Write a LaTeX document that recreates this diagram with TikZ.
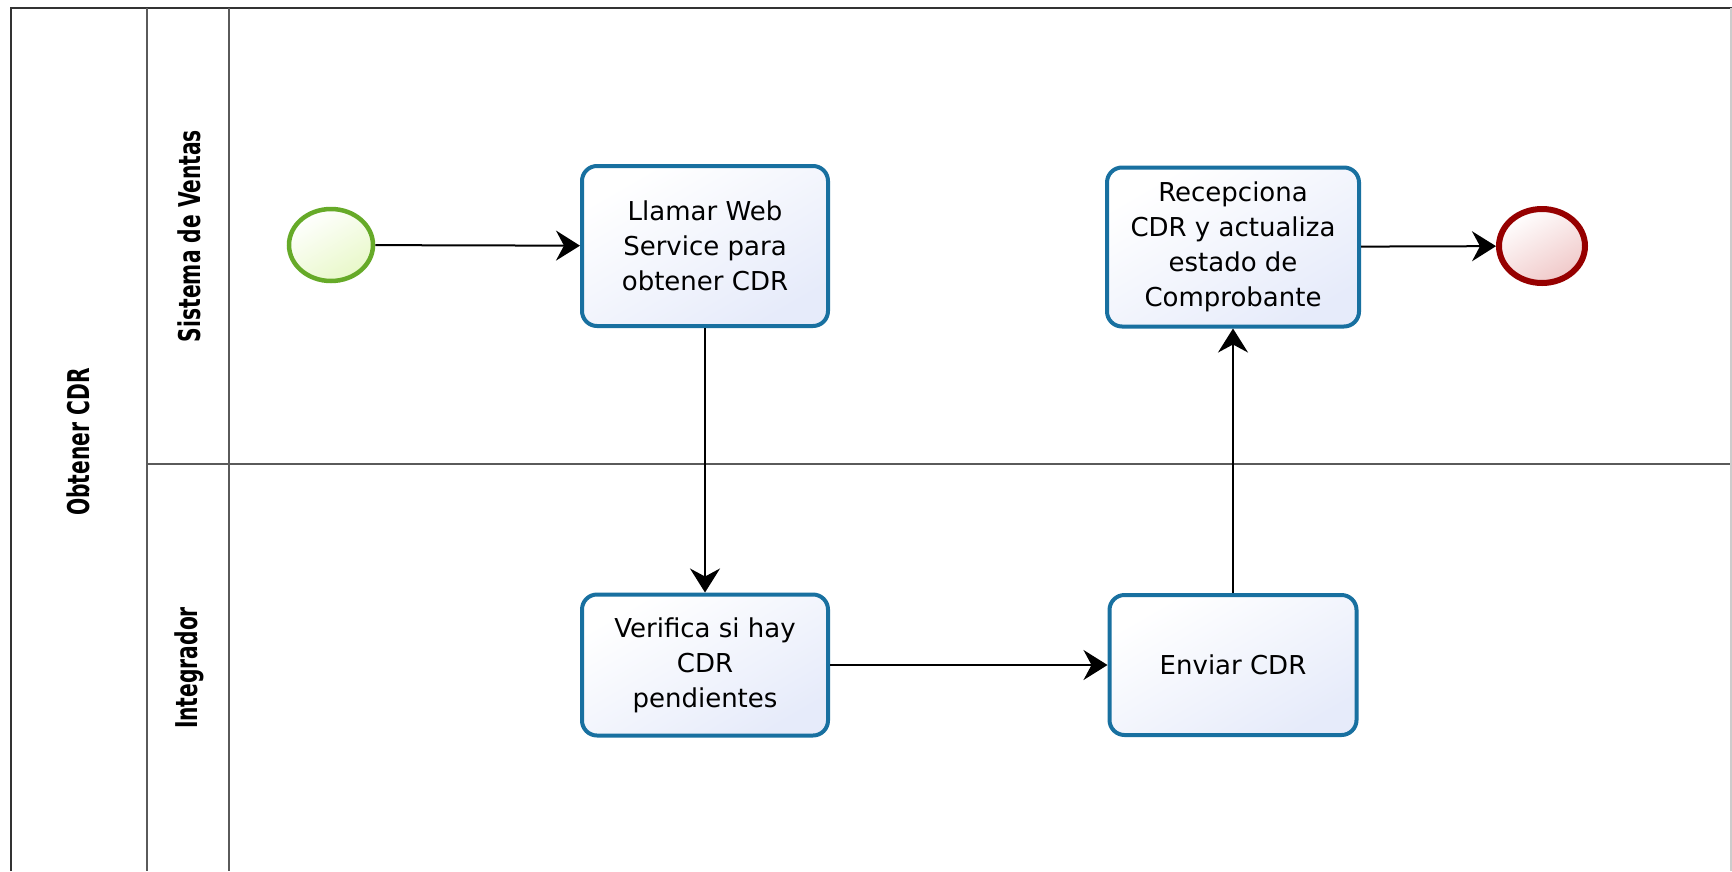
\documentclass[tikz,border=0pt]{standalone}
\usepackage{fontspec}
\setmainfont{DejaVu Sans}
\newfontfamily\lanefont[FakeStretch=0.75]{DejaVu Sans Condensed}
\usetikzlibrary{arrows.meta,shapes.geometric}
\definecolor{taskborder}{RGB}{24,112,160}
\definecolor{taskfill}{RGB}{230,235,250}
\definecolor{startborder}{RGB}{102,170,40}
\definecolor{startfill}{RGB}{232,248,200}
\definecolor{endborder}{RGB}{150,0,0}
\definecolor{endfill}{RGB}{240,200,200}
\definecolor{poolline}{RGB}{90,90,90}
\tikzset{
  taskbox/.style={draw=taskborder, line width=4pt, rounded corners=15pt,
    shade, top color=white, bottom color=taskfill, shading angle=30,
    align=center, inner sep=0pt,
    font=\fontsize{26}{35}\selectfont},
  startev/.style={ellipse, draw=startborder, line width=4.5pt, shade,
    top color=white, bottom color=startfill, shading angle=30, inner sep=0pt},
  endev/.style={ellipse, draw=endborder, line width=6pt, shade,
    top color=white, bottom color=endfill, shading angle=30, inner sep=0pt},
  flow/.style={draw=black, line width=2pt,
    -{Stealth[length=24pt,width=30pt,inset=8pt]}},
  lanelabel/.style={rotate=90, font=\lanefont\bfseries\fontsize{30}{34}\selectfont},
  poolln/.style={draw=poolline, line width=2pt}
}
\begin{document}
\begin{tikzpicture}[x=1pt,y=-1pt]
\useasboundingbox (0,0) rectangle (1732,871);
\fill[white] (0,0) rectangle (1732,871);
% pool and lanes
\draw[poolln, draw=black!80] (11,871) -- (11,8) -- (1732,8);
\draw[poolln] (147,8) -- (147,871);
\draw[poolln] (229,8) -- (229,871);
\draw[poolln] (147,464) -- (1732,464);
\draw[draw=black!20, line width=1.5pt] (1731,8) -- (1731,871);
\node[lanelabel] (pool) at (78,442) {Obtener CDR};
\node[lanelabel] (lane1) at (189,236) {Sistema de Ventas};
\node[lanelabel] (lane2) at (189,668) {Integrador};
% events and tasks
\node[startev, minimum width=84pt, minimum height=72pt] (s) at (331,245) {};
\node[endev, minimum width=86pt, minimum height=74pt] (e) at (1542,246) {};
\node[taskbox, minimum width=246pt, minimum height=160pt] (t1) at (705,246)
  {Llamar Web\\Service para\\obtener CDR};
\node[taskbox, minimum width=252pt, minimum height=159pt] (t2) at (1233,247)
  {Recepciona\\CDR y actualiza\\estado de\\Comprobante};
\node[taskbox, minimum width=246pt, minimum height=141pt] (t3) at (705,665)
  {Verifica si hay\\CDR\\pendientes};
\node[taskbox, minimum width=247pt, minimum height=140pt] (t4) at (1233,665)
  {Enviar CDR};
% flows
\draw[flow] (s) -- (t1);
\draw[flow] (t1) -- (t3);
\draw[flow] (t3) -- (t4);
\draw[flow] (t4) -- (t2);
\draw[flow] (t2) -- (e);
\end{tikzpicture}
\end{document}
